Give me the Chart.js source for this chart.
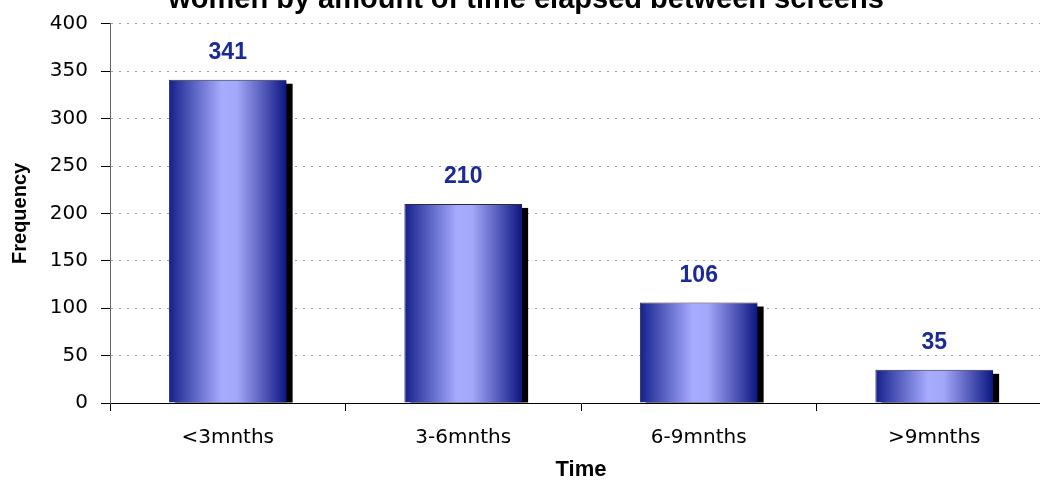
<!DOCTYPE html>
<html>
<head>
<meta charset="utf-8">
<script src="https://cdn.jsdelivr.net/npm/chart.js@4.4.1/dist/chart.umd.min.js"></script>
<style>
  html, body { margin: 0; padding: 0; background: #fff; overflow: hidden; width: 1040px; height: 483px; }
  #wrap { position: absolute; left: 0; top: -17px; width: 1060px; height: 500px; }
</style>
</head>
<body>
<div id="wrap"><canvas id="chart" width="1060" height="500"></canvas></div>
<script>
// data
const categories = ['<3mnths', '3-6mnths', '6-9mnths', '>9mnths'];
const frequencies = [341, 210, 106, 35];
const yMin = 0, yMax = 400, yStep = 50;
const titleText = 'women by amount of time elapsed between screens';
const xTitle = 'Time';
const yTitle = 'Frequency';

const BAR_PCT = 0.5;

// horizontal navy -> lavender -> navy shading for each bar
function barGradient(context) {
    const chart = context.chart;
    if (!chart.chartArea || context.dataIndex === undefined) return '#7c82e6';
    const xs = chart.scales.x;
    const cx = xs.getPixelForValue(context.dataIndex);
    const half = (xs.width / categories.length) * BAR_PCT / 2;
    const g = chart.ctx.createLinearGradient(cx - half, 0, cx + half, 0);
    g.addColorStop(0, '#14208c');
    g.addColorStop(0.45, '#a8acff');
    g.addColorStop(0.58, '#a3a7f8');
    g.addColorStop(1, '#0c1682');
    return g;
}

// black drop shadow offset to the lower right
const shadowPlugin = {
    id: 'barShadow',
    beforeDatasetsDraw(chart) {
        const ctx = chart.ctx;
        ctx.save();
        ctx.fillStyle = '#000';
        chart.getDatasetMeta(0).data.forEach(bar => {
            const p = bar.getProps(['x', 'y', 'width', 'base'], true);
            ctx.fillRect(p.x - p.width / 2 + 6, p.y + 4, p.width, p.base - p.y - 4);
        });
        ctx.restore();
    }
};

// value labels above the bars
const valueLabels = {
    id: 'valueLabels',
    afterDatasetsDraw(chart) {
        const ctx = chart.ctx;
        ctx.save();
        ctx.fillStyle = '#1a2a96';
        ctx.font = 'bold 23px "Liberation Sans", Arial, sans-serif';
        ctx.textAlign = 'center';
        ctx.textBaseline = 'middle';
        chart.getDatasetMeta(0).data.forEach((bar, i) => {
            ctx.fillText(String(frequencies[i]), bar.x, bar.y - 27);
        });
        ctx.restore();
    }
};

new Chart(document.getElementById('chart').getContext('2d'), {
    type: 'bar',
    data: {
        labels: categories,
        datasets: [{
            data: frequencies,
            backgroundColor: barGradient,
            borderColor: '#2a2a40',
            borderWidth: { top: 1, left: 1, right: 0, bottom: 0 },
            borderSkipped: false,
            barPercentage: BAR_PCT,
            categoryPercentage: 1
        }]
    },
    options: {
        responsive: false,
        animation: false,
        devicePixelRatio: 1,
        layout: { padding: { left: 0, right: 8, top: 0, bottom: 0 } },
        plugins: {
            legend: { display: false },
            tooltip: { enabled: false },
            title: {
                display: true,
                text: titleText,
                color: '#000',
                font: { family: 'Liberation Sans', weight: 'bold', size: 29 },
                padding: { top: 0, bottom: 6 }
            }
        },
        scales: {
            x: {
                offset: true,
                grid: { offset: true, drawOnChartArea: false, drawTicks: true, tickLength: 8, tickColor: '#000' },
                border: { color: '#000', width: 1 },
                ticks: {
                    color: '#000',
                    font: { family: 'DejaVu Sans', size: 20 },
                    padding: 15,
                    maxRotation: 0,
                    autoSkip: false
                },
                title: {
                    display: true,
                    text: xTitle,
                    color: '#000',
                    font: { family: 'Liberation Sans', weight: 'bold', size: 22 },
                    padding: { top: -3, bottom: 0 }
                },
                afterFit(scale) { scale.height = 80; }
            },
            y: {
                min: yMin,
                max: yMax,
                ticks: {
                    stepSize: yStep,
                    color: '#000',
                    font: { family: 'DejaVu Sans', size: 20 },
                    padding: 13
                },
                grid: { color: '#a0a0a0', tickColor: '#000', tickLength: 9, drawTicks: true },
                border: { color: '#666', width: 1, dash: [2, 6] },
                title: {
                    display: true,
                    text: yTitle,
                    color: '#000',
                    font: { family: 'Liberation Sans', weight: 'bold', size: 20 },
                    padding: { top: 8, bottom: 0 }
                },
                afterFit(scale) { scale.width = 110; }
            }
        }
    },
    plugins: [shadowPlugin, valueLabels]
});
</script>
</body>
</html>
